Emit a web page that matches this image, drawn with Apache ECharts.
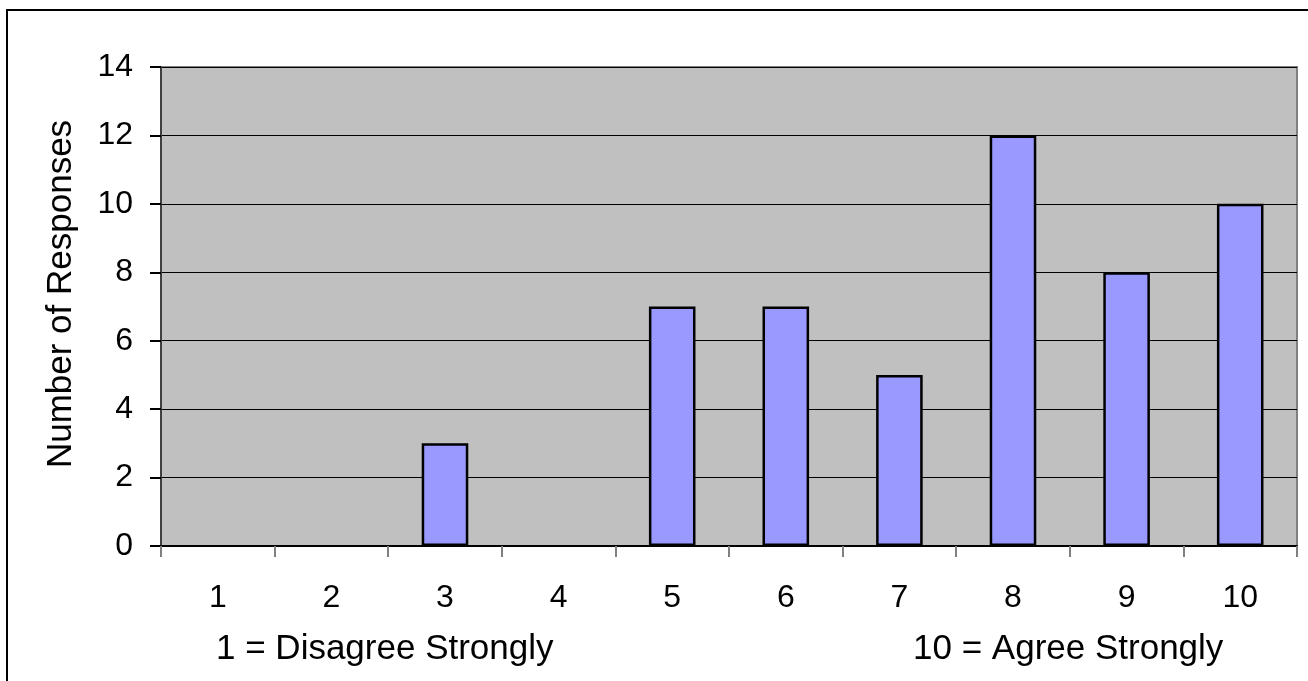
<!DOCTYPE html>
<html>
<head>
<meta charset="utf-8">
<script src="https://cdn.jsdelivr.net/npm/echarts@6/dist/echarts.min.js"></script>
<style>
html,body{margin:0;padding:0;background:#fff;}
#chart{width:1308px;height:681px;}
</style>
</head>
<body>
<div id="chart"></div>
<script>
var categories = ['1','2','3','4','5','6','7','8','9','10'];
var responses = [0,0,3,0,7,7,5,12,8,10];
var yTicks = [0,2,4,6,8,10,12,14];
var yAxisTitle = 'Number of Responses';
var leftNote = '1 = Disagree Strongly';
var rightNote = '10 = Agree Strongly';

var FONT = "'Liberation Sans', Arial, sans-serif";
var barData = responses.map(function (v) {
  return v === 0 ? {value: v, itemStyle: {borderWidth: 0, opacity: 0}} : v;
});
var chart = echarts.init(document.getElementById('chart'));
chart.setOption({
  animation: false,
  backgroundColor: '#ffffff',
  grid: {
    left: 161, top: 67, right: 11, bottom: 135,
    show: true, backgroundColor: '#C0C0C0', borderColor: '#808080', borderWidth: 2
  },
  xAxis: {
    type: 'category',
    data: categories,
    boundaryGap: true,
    axisLine: {show: true, lineStyle: {color: '#000', width: 2}},
    axisTick: {show: true, length: 11, lineStyle: {color: '#808080', width: 2}},
    axisLabel: {color: '#000', fontSize: 32, fontFamily: FONT, margin: 36},
    splitLine: {show: false}
  },
  yAxis: {
    type: 'value',
    min: yTicks[0], max: yTicks[yTicks.length - 1], interval: 2,
    axisLine: {show: true, lineStyle: {color: '#404040', width: 2}},
    axisTick: {show: true, length: 11, lineStyle: {color: '#000', width: 2}},
    axisLabel: {color: '#000', fontSize: 32, fontFamily: FONT, margin: 28},
    splitLine: {show: true, lineStyle: {color: '#000', width: 1}}
  },
  series: [{
    type: 'bar',
    data: barData,
    barWidth: '41%',
    itemStyle: {color: '#9999FF', borderColor: '#000', borderWidth: 2.5}
  }],
  graphic: [
    {type: 'rect', shape: {x: 7, y: 10, width: 1320, height: 700}, style: {fill: 'none', stroke: '#000', lineWidth: 2}, z: -10},
    {type: 'text', x: 61, y: 294, rotation: Math.PI / 2,
     style: {text: yAxisTitle, fill: '#000', font: "35px " + FONT, textAlign: 'center', textVerticalAlign: 'middle'}},
    {type: 'text', left: 216, top: 632, style: {text: leftNote, fill: '#000', font: "35px " + FONT}},
    {type: 'text', left: 913, top: 632, style: {text: rightNote, fill: '#000', font: "35px " + FONT}}
  ]
});
</script>
</body>
</html>
